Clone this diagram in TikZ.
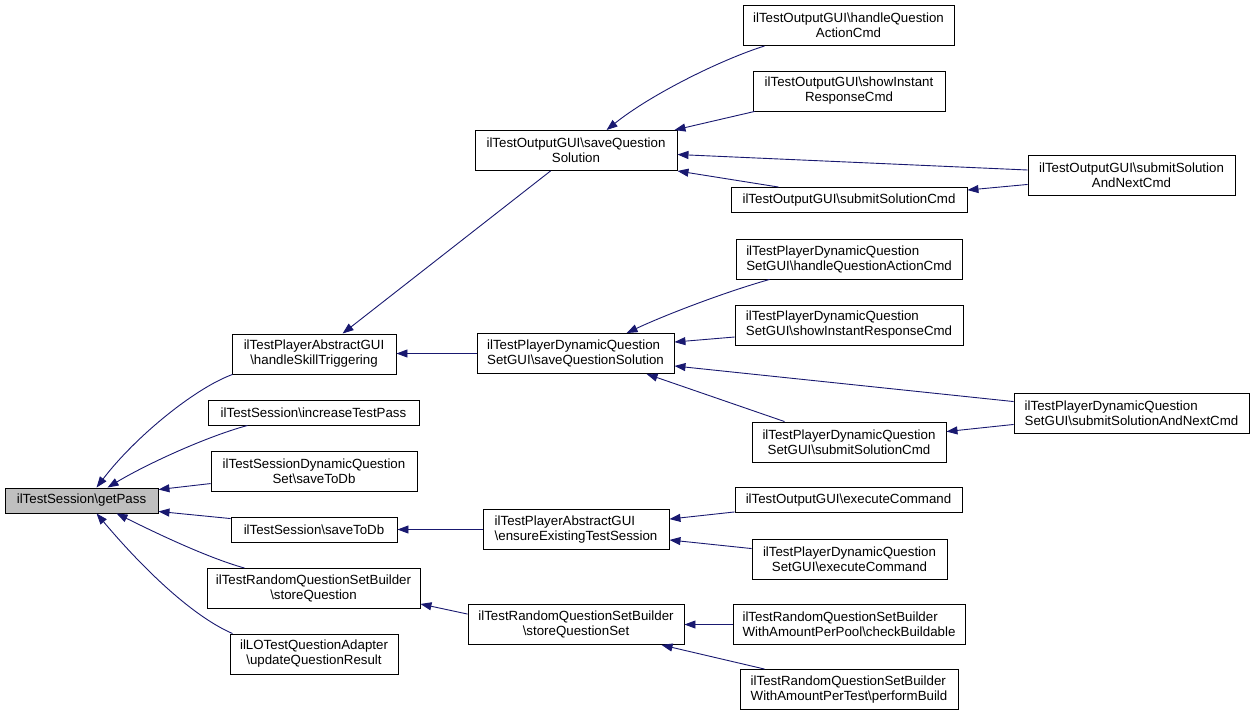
\documentclass[tikz,border=0pt]{standalone}
\usepackage{fontspec}
\setmainfont{Liberation Sans}
\usetikzlibrary{arrows.meta,calc}
\definecolor{edgecol}{HTML}{191970}
\definecolor{mainfill}{HTML}{BFBFBF}
\begin{document}
\begin{tikzpicture}[x=1pt,y=-1pt,
  box/.style={draw=black,line width=0.9pt,fill=white,inner sep=0pt,align=center,
    font=\fontsize{13.3}{15}\selectfont},
  lbox/.style={box,align=left},
  edge/.style={draw=edgecol,line width=0.9pt,-{Triangle[length=11pt,width=8pt]}}]
\useasboundingbox (0,0) rectangle (1255,716);
% column 1
\node[box,fill=mainfill,minimum width=153pt,minimum height=25pt] (gp) at (81.5,500.5) {ilTestSession\textbackslash getPass};
% column 2
\node[box,minimum width=164pt,minimum height=40pt] (hst) at (314,354) {ilTestPlayerAbstractGUI\\\textbackslash handleSkillTriggering};
\node[box,minimum width=211pt,minimum height=25pt] (itp) at (313.5,412.5) {ilTestSession\textbackslash increaseTestPass};
\node[box,minimum width=206pt,minimum height=40pt] (dsd) at (314,471) {ilTestSessionDynamicQuestion\\Set\textbackslash saveToDb};
\node[box,minimum width=166pt,minimum height=25pt] (std) at (314,530) {ilTestSession\textbackslash saveToDb};
\node[box,minimum width=213pt,minimum height=40pt] (sq) at (313.5,588.5) {ilTestRandomQuestionSetBuilder\\\textbackslash storeQuestion};
\node[box,minimum width=168pt,minimum height=40pt] (uqr) at (314,654) {ilLOTestQuestionAdapter\\\textbackslash updateQuestionResult};
% column 3
\node[box,minimum width=202pt,minimum height=40pt] (osqs) at (576,150.5) {ilTestOutputGUI\textbackslash saveQuestion\\Solution};
\node[lbox,minimum width=197pt,minimum height=40pt] (dsqs) at (575.5,353.5) {ilTestPlayerDynamicQuestion\\SetGUI\textbackslash saveQuestionSolution};
\node[lbox,minimum width=186pt,minimum height=40pt] (eets) at (576,529.5) {ilTestPlayerAbstractGUI\\\textbackslash ensureExistingTestSession};
\node[box,minimum width=216pt,minimum height=40pt] (sqs) at (576,624.5) {ilTestRandomQuestionSetBuilder\\\textbackslash storeQuestionSet};
% column 4
\node[box,minimum width=211pt,minimum height=40pt] (ohqa) at (848.5,25.5) {ilTestOutputGUI\textbackslash handleQuestion\\ActionCmd};
\node[box,minimum width=192pt,minimum height=40pt] (osir) at (849,91) {ilTestOutputGUI\textbackslash showInstant\\ResponseCmd};
\node[box,minimum width=236pt,minimum height=25pt] (oss) at (849,200) {ilTestOutputGUI\textbackslash submitSolutionCmd};
\node[lbox,minimum width=226pt,minimum height=40pt] (dhqa) at (849,259) {ilTestPlayerDynamicQuestion\\SetGUI\textbackslash handleQuestionActionCmd};
\node[lbox,minimum width=228pt,minimum height=40pt] (dsir) at (849,325) {ilTestPlayerDynamicQuestion\\SetGUI\textbackslash showInstantResponseCmd};
\node[box,minimum width=194pt,minimum height=40pt] (dss) at (849,442) {ilTestPlayerDynamicQuestion\\SetGUI\textbackslash submitSolutionCmd};
\node[box,minimum width=227pt,minimum height=25pt] (oec) at (848.5,500) {ilTestOutputGUI\textbackslash executeCommand};
\node[box,minimum width=195pt,minimum height=40pt] (dec) at (849.5,559) {ilTestPlayerDynamicQuestion\\SetGUI\textbackslash executeCommand};
\node[lbox,minimum width=232pt,minimum height=40pt] (cb) at (849,624.5) {ilTestRandomQuestionSetBuilder\\WithAmountPerPool\textbackslash checkBuildable};
\node[lbox,minimum width=218pt,minimum height=40pt] (pb) at (849,689.5) {ilTestRandomQuestionSetBuilder\\WithAmountPerTest\textbackslash performBuild};
% column 5
\node[box,minimum width=207pt,minimum height=40pt] (osn) at (1131.5,175) {ilTestOutputGUI\textbackslash submitSolution\\AndNextCmd};
\node[lbox,minimum width=235pt,minimum height=40pt] (dsn) at (1131.5,413) {ilTestPlayerDynamicQuestion\\SetGUI\textbackslash submitSolutionAndNextCmd};
% edges to getPass
\draw[edge] ($(hst.south west)+(1,0)$) .. controls (195,388) and (135,437) .. ($(gp.north west)+(92,0)$);
\draw[edge] ($(itp.south west)+(40,0)$) .. controls (205,437) and (145,465) .. ($(gp.north west)+(103,0)$);
\draw[edge] ($(dsd.north west)+(0,33)$) -- ($(gp.north east)+(0,2)$);
\draw[edge] ($(std.north west)+(0,1.5)$) -- ($(gp.south east)+(0,-2)$);
\draw[edge] ($(sq.north west)+(38,0)$) .. controls (205,557) and (150,530) .. ($(gp.south west)+(112,0)$);
\draw[edge] ($(uqr.north west)+(3,0)$) .. controls (190,615) and (140,565) .. ($(gp.south west)+(92,0)$);
% column 3 -> column 2
\draw[edge] ($(osqs.south west)+(76,0)$) -- ($(hst.north west)+(111,0)$);
\draw[edge] (dsqs.west) -- (dsqs.west -| hst.east);
\draw[edge] (eets.west) -- (eets.west -| std.east);
\draw[edge] ($(sqs.north west)+(0,10)$) -- ($(sq.south east)+(0,-5)$);
% column 4 -> column 3
\draw[edge] ($(ohqa.south west)+(22,0)$) .. controls (720,60) and (650,95) .. ($(osqs.north west)+(132,0)$);
\draw[edge] ($(osir.south west)+(2,0)$) -- ($(osqs.north east)+(-3,0)$);
\draw[edge] ($(osn.west)+(0,-5)$) -- ($(osqs.east)+(0,4)$);
\draw[edge] ($(oss.north west)+(48,0)$) -- (osqs.south east);
\draw[edge] ($(osn.south west)+(0,-11)$) -- ($(oss.north east)+(0,3)$);
\draw[edge] ($(dhqa.south west)+(34,0)$) .. controls (725,292) and (665,315) .. ($(dsqs.north west)+(150,0)$);
\draw[edge] ($(dsir.west)+(0,12)$) -- ($(dsqs.north east)+(0,9)$);
\draw[edge] ($(dsn.north west)+(0,9)$) -- ($(dsqs.south east)+(0,-8)$);
\draw[edge] ($(dss.north west)+(33,0)$) -- ($(dsqs.south west)+(170,0)$);
\draw[edge] ($(dsn.south west)+(0,-9)$) -- ($(dss.north east)+(0,10)$);
\draw[edge] ($(oec.south west)+(0,-1)$) -- ($(eets.north east)+(0,10)$);
\draw[edge] ($(dec.north west)+(0,10)$) -- ($(eets.south east)+(0,-10)$);
\draw[edge] (cb.west) -- (cb.west -| sqs.east);
\draw[edge] ($(pb.north west)+(25,0)$) -- ($(sqs.south west)+(194,0)$);
\end{tikzpicture}
\end{document}
